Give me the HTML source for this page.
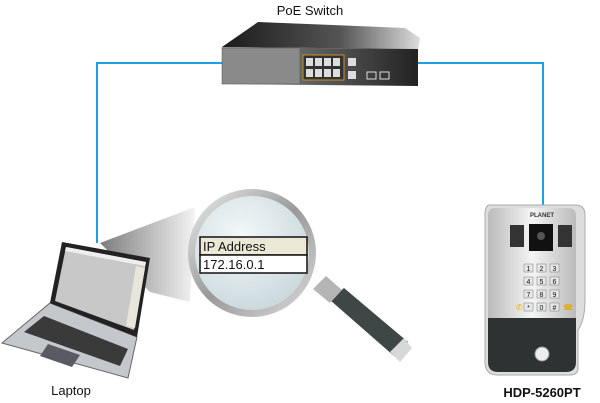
<!DOCTYPE html>
<html><head><meta charset="utf-8"><style>
html,body{margin:0;padding:0;background:#fff;width:600px;height:403px;overflow:hidden}
</style></head><body>
<svg width="600" height="403" viewBox="0 0 600 403" xmlns="http://www.w3.org/2000/svg" font-family="Liberation Sans, sans-serif">
<defs>
<linearGradient id="top" x1="0" y1="0" x2="1" y2="0"><stop offset="0" stop-color="#1a1a1a"/><stop offset=".6" stop-color="#555"/><stop offset="1" stop-color="#ddd"/></linearGradient>
<linearGradient id="front" x1="0" y1="0" x2="1" y2="0"><stop offset="0" stop-color="#999"/><stop offset=".4" stop-color="#666"/><stop offset="1" stop-color="#222"/></linearGradient>
<linearGradient id="beam" x1="0" y1="0" x2="1" y2="0"><stop offset="0" stop-color="#666"/><stop offset="1" stop-color="#f2f2f2"/></linearGradient>
<radialGradient id="lens" cx=".4" cy=".35" r=".7"><stop offset="0" stop-color="#f4f8f9"/><stop offset="1" stop-color="#c9d8dc"/></radialGradient>
<linearGradient id="rim" x1="0" y1="0" x2="1" y2="1"><stop offset="0" stop-color="#eee"/><stop offset=".5" stop-color="#999"/><stop offset="1" stop-color="#ddd"/></linearGradient>
<linearGradient id="panel" x1="0" y1="0" x2="1" y2="0"><stop offset="0" stop-color="#bbb"/><stop offset=".5" stop-color="#f4f4f4"/><stop offset="1" stop-color="#bbb"/></linearGradient>
</defs>
<polyline points="97,243 97,63 224,63" fill="none" stroke="#1e9fe0" stroke-width="2"/>
<polyline points="414,63 543,63 543,206" fill="none" stroke="#1e9fe0" stroke-width="2"/>
<text x="310" y="15" font-size="13" text-anchor="middle" fill="#111">PoE Switch</text>
<polygon points="222,47 258,22 405,28 420,38 418,49" fill="url(#top)"/>
<polygon points="222,47 418,49 418,86 222,84" fill="url(#front)"/>
<rect x="222" y="48" width="78" height="36" fill="#8a8a8a" stroke="#555" stroke-width=".5"/>
<rect x="303" y="55" width="41" height="25" fill="#333" stroke="#c8902e"/>
<g fill="#ddd"><rect x="306" y="58" width="7" height="8"/><rect x="315" y="58" width="7" height="8"/><rect x="324" y="58" width="7" height="8"/><rect x="333" y="58" width="7" height="8"/><rect x="306" y="69" width="7" height="8"/><rect x="315" y="69" width="7" height="8"/><rect x="324" y="69" width="7" height="8"/><rect x="333" y="69" width="7" height="8"/>
<rect x="348" y="58" width="8" height="8"/><rect x="348" y="71" width="8" height="8"/></g>
<rect x="367" y="72" width="9" height="7" fill="none" stroke="#ddd"/><rect x="380" y="72" width="9" height="7" fill="none" stroke="#ddd"/>
<polygon points="100,243 195,207 190,302 150,292" fill="url(#beam)" opacity=".85"/>
<!-- laptop -->
<polygon points="50,303 137,337 128,378 2,343" fill="#c4c8cc" stroke="#666"/>
<polygon points="44,316 128,349 120,366 24,332" fill="#3a3a3a"/>
<polygon points="48,344 80,355 72,367 40,356" fill="#5a5a62"/>
<polygon points="62,242 150,258 137,337 50,303" fill="#222"/>
<polygon points="66,247 146,262 134,330 55,301" fill="#c8c8c8"/>
<polygon points="66,247 146,262 145,266 65,251" fill="#eee"/>
<polygon points="136,266 145,268 135,328 126,326" fill="#e8e6dc"/>
<text x="71" y="395" font-size="13" text-anchor="middle" fill="#111">Laptop</text>
<!-- magnifier -->
<polygon points="330,300 344,288 408,342 394,356" fill="#3e4646"/>
<polygon points="313,289 326,276 342,290 330,303" fill="#b5b5b5"/>
<polygon points="390,352 404,338 412,348 400,362" fill="#d8d8d8"/>
<circle cx="252" cy="253" r="64" fill="url(#rim)"/>
<circle cx="252" cy="253" r="57" fill="url(#lens)"/>
<rect x="200" y="237" width="107" height="18" fill="#ece8d6" stroke="#111" stroke-width="1.5"/>
<rect x="200" y="255" width="107" height="18" fill="#fff" stroke="#111" stroke-width="1.5"/>
<text x="203" y="251" font-size="13" fill="#111">IP Address</text>
<text x="203" y="269" font-size="13" fill="#111">172.16.0.1</text>
<!-- door phone -->
<path d="M490,205 H575 Q585,205 585,215 V300 Q585,320 578,330 V368 Q578,375 570,375 H498 Q485,375 485,362 V215 Q485,205 490,205 Z" fill="#ddd" stroke="#aaa"/>
<path d="M495,208 H568 Q576,208 576,216 V318 H488 V216 Q488,208 495,208 Z" fill="url(#panel)"/>
<path d="M488,318 H576 V362 Q576,372 566,372 H498 Q488,372 488,362 Z" fill="#2e3233"/>
<circle cx="542" cy="354" r="7" fill="#eee" stroke="#999"/>
<rect x="510" y="225" width="14" height="22" fill="#333"/><rect x="558" y="225" width="14" height="22" fill="#333"/>
<rect x="529" y="224" width="24" height="27" fill="#111"/><circle cx="541" cy="236" r="4" fill="#555"/>
<text x="542" y="217" font-size="6" font-weight="bold" text-anchor="middle" fill="#333">PLANET</text>
<g font-size="7" text-anchor="middle" fill="#111">
<g fill="#e8e8e8" stroke="#777" stroke-width=".5">
<rect x="524" y="264" width="9" height="8"/><rect x="537" y="264" width="9" height="8"/><rect x="550" y="264" width="9" height="8"/>
<rect x="524" y="277" width="9" height="8"/><rect x="537" y="277" width="9" height="8"/><rect x="550" y="277" width="9" height="8"/>
<rect x="524" y="290" width="9" height="8"/><rect x="537" y="290" width="9" height="8"/><rect x="550" y="290" width="9" height="8"/>
<rect x="524" y="303" width="9" height="8"/><rect x="537" y="303" width="9" height="8"/><rect x="550" y="303" width="9" height="8"/></g>
<text x="528.5" y="271">1</text><text x="541.5" y="271">2</text><text x="554.5" y="271">3</text>
<text x="528.5" y="284">4</text><text x="541.5" y="284">5</text><text x="554.5" y="284">6</text>
<text x="528.5" y="297">7</text><text x="541.5" y="297">8</text><text x="554.5" y="297">9</text>
<text x="528.5" y="310">*</text><text x="541.5" y="310">0</text><text x="554.5" y="310">#</text>
</g>
<text x="516" y="310" font-size="8" fill="#e8a800">✆</text><text x="563" y="310" font-size="8" fill="#e8a800">☎</text>
<text x="542" y="397" font-size="13" font-weight="bold" text-anchor="middle" fill="#111">HDP-5260PT</text>
</svg>
</body></html>
